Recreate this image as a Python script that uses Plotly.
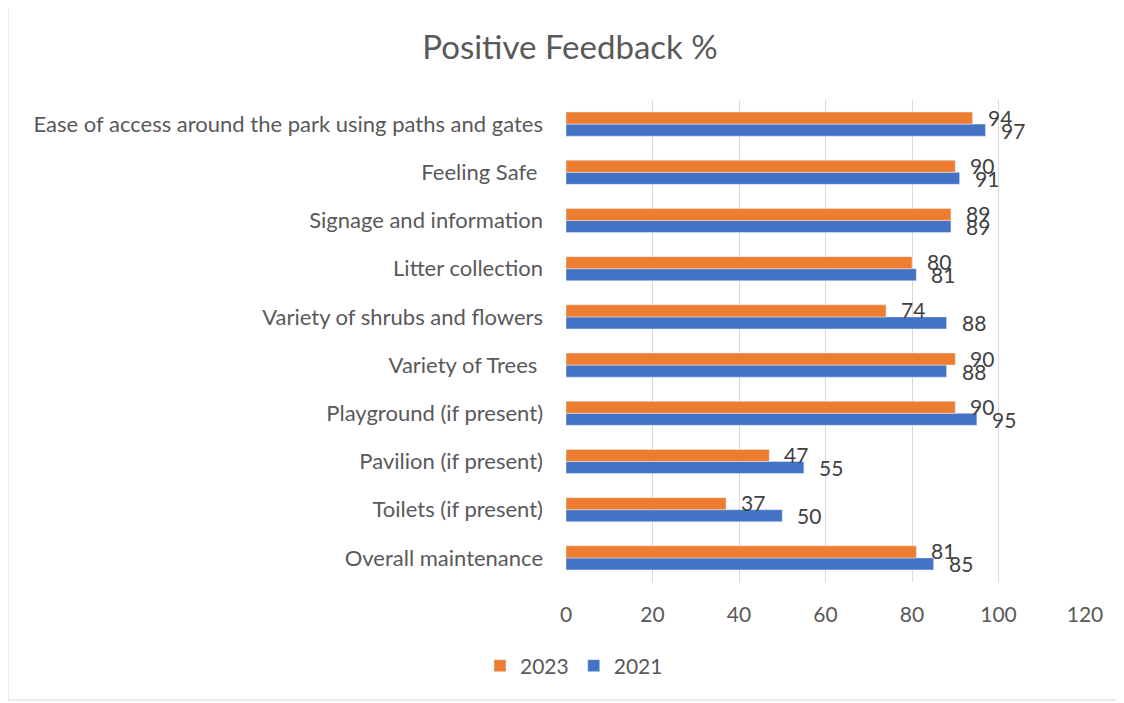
import plotly.graph_objects as go

categories = ["Overall maintenance", "Toilets (if present)", "Pavilion (if present)",
              "Playground (if present)", "Variety of Trees ", "Variety of shrubs and flowers",
              "Litter collection", "Signage and information", "Feeling Safe ",
              "Ease of access around the park using paths and gates"]
values_2023 = [81, 37, 47, 90, 90, 74, 80, 89, 90, 94]
values_2021 = [85, 50, 55, 95, 88, 88, 81, 89, 91, 97]
tick_vals = [0, 20, 40, 60, 80, 100, 120]

FONT = "Lato"
OFF = 8  # page body margin
fig = go.Figure()
fig.add_trace(go.Bar(y=categories, x=values_2021, orientation="h", name="2021",
                     marker=dict(color="#4472C4"), legendrank=2))
fig.add_trace(go.Bar(y=categories, x=values_2023, orientation="h", name="2023",
                     marker=dict(color="#ED7D31"), legendrank=1))

annotations = []
for c, v in zip(categories, values_2023):
    annotations.append(dict(x=v, y=c, xref="x", yref="y", text=str(v), showarrow=False,
                            xanchor="left", yanchor="middle", xshift=13, yshift=7,
                            font=dict(family=FONT, size=21, color="#404040")))
for c, v in zip(categories, values_2021):
    annotations.append(dict(x=v, y=c, xref="x", yref="y", text=str(v), showarrow=False,
                            xanchor="left", yanchor="middle", xshift=13, yshift=-6,
                            font=dict(family=FONT, size=21, color="#404040")))

W, H = 1124, 703
L, R, T, B = 566 - OFF, 39 + OFF, 100 - OFF, 121 + OFF
pw, ph = W - L - R, H - T - B

def py(pix):  # page pixel y -> paper y
    return (T + ph - (pix - OFF)) / ph

def px(pix):  # page pixel x -> paper x
    return ((pix - OFF) - L) / pw

fig.update_layout(
    width=W, height=H,
    margin=dict(l=L, r=R, t=T, b=B),
    paper_bgcolor="white", plot_bgcolor="white",
    barmode="group", bargap=0.5, bargroupgap=0,
    title=dict(text="Positive Feedback %", x=(570 - OFF) / W, xanchor="center",
               y=1 - (47 - OFF) / H, yanchor="middle",
               font=dict(family=FONT, size=33, color="#595959")),
    xaxis=dict(range=[0, 120], tickvals=tick_vals, showgrid=True, gridcolor="#D9D9D9",
               gridwidth=1.3, zeroline=False, showline=False, ticks="",
               tickfont=dict(family=FONT, size=21, color="#595959"), ticklabelstandoff=18),
    yaxis=dict(showgrid=False, zeroline=False, showline=False, ticks="",
               tickfont=dict(family=FONT, size=22, color="#595959"), ticklabelstandoff=22),
    legend=dict(orientation="h", x=px(574), xanchor="center", y=py(666),
                yanchor="middle", font=dict(family=FONT, size=21, color="#595959"),
                traceorder="normal"),
    annotations=annotations,
    showlegend=True,
)
fig.add_shape(type="rect", xref="paper", yref="paper",
              x0=px(8), x1=px(1121), y0=py(700), y1=py(2),
              line=dict(color="#D9D9D9", width=1), fillcolor="rgba(0,0,0,0)", layer="below")
fig.write_html("out.html")
